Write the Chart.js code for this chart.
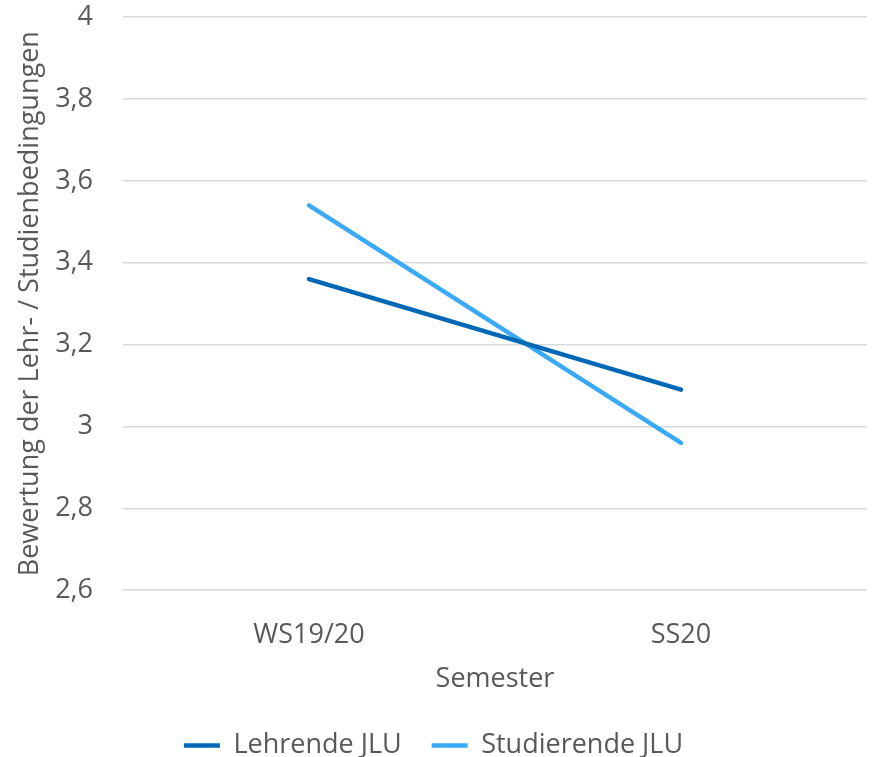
<!DOCTYPE html>
<html>
<head>
<meta charset="utf-8">
<script src="https://cdn.jsdelivr.net/npm/chart.js@4"></script>
<style>
  html, body { margin: 0; padding: 0; background: #fff; }
  #wrap { width: 872px; height: 757px; }
</style>
</head>
<body>
<div id="wrap"><canvas id="myChart"></canvas></div>
<script>
const semesters = ["WS19/20", "SS20"];
const lehrende = [3.36, 3.09];
const studierende = [3.54, 2.96];

const textColor = '#595959';
const fontFamily = '"Open Sans", sans-serif';
Chart.defaults.font.family = fontFamily;
Chart.defaults.color = textColor;

// setup
const data = {
    labels: semesters,
    datasets: [{
        label: 'Lehrende JLU',
        data: lehrende,
        borderColor: '#0068b4',
        backgroundColor: '#0068b4',
        borderWidth: 4.5,
        borderCapStyle: 'round',
        pointRadius: 0,
        pointStyle: 'line'
    }, {
        label: 'Studierende JLU',
        data: studierende,
        borderColor: '#3aaaf8',
        backgroundColor: '#3aaaf8',
        borderWidth: 4.5,
        borderCapStyle: 'round',
        pointRadius: 0,
        pointStyle: 'line'
    }]
};

// config
const config = {
    type: 'line',
    data: data,
    options: {
        responsive: true,
        maintainAspectRatio: false,
        animation: false,
        layout: { padding: { top: 0, right: 5, bottom: -12, left: 0 } },
        plugins: {
            legend: {
                position: 'bottom',
                labels: {
                    usePointStyle: true,
                    pointStyleWidth: 36,
                    padding: 30,
                    font: { size: 27 },
                    color: textColor
                }
            },
            tooltip: { enabled: false }
        },
        scales: {
            x: {
                offset: true,
                // hidden grid, but tick length still spaces the labels
                grid: { display: false, drawTicks: true, tickLength: 28 },
                border: { display: false },
                ticks: { padding: 1, font: { size: 27 }, color: textColor },
                title: {
                    display: true,
                    text: 'Semester',
                    padding: { top: 11, bottom: 6 },
                    font: { size: 27 },
                    color: textColor
                }
            },
            y: {
                min: 2.6,
                max: 4,
                // invisible tick marks push the labels left without adding top padding
                grid: { color: '#d9d9d9', lineWidth: 1.5, drawTicks: true, tickLength: 29, tickColor: 'rgba(0,0,0,0)' },
                border: { display: false },
                ticks: {
                    stepSize: 0.2,
                    padding: 1,
                    font: { size: 27 },
                    color: textColor,
                    callback: (v) => String(Math.round(v * 10) / 10).replace('.', ',')
                },
                title: {
                    display: true,
                    text: 'Bewertung der Lehr- / Studienbedingungen',
                    padding: { top: 14, bottom: 0 },
                    font: { size: 27 },
                    color: textColor
                },
                afterFit: (scale) => { scale.width = 123; }
            }
        }
    }
};

// render init block
const myChart = new Chart(document.getElementById('myChart'), config);
</script>
</body>
</html>
